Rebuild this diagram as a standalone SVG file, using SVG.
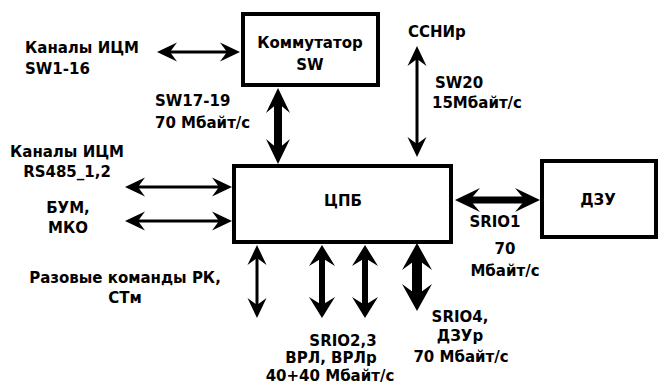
<svg xmlns="http://www.w3.org/2000/svg" width="665" height="386" viewBox="0 0 665 386">
<style>
text{font-family:"DejaVu Sans","Liberation Sans",sans-serif;font-weight:bold;font-size:15px;fill:#000}
.box{fill:#fff;stroke:#000;stroke-width:4}
.c{text-anchor:middle}
.thin{stroke:#000;stroke-width:3;fill:none;marker-start:url(#hThin);marker-end:url(#hThin)}
.med{stroke:#000;stroke-width:6;fill:none;marker-start:url(#hMed);marker-end:url(#hMed)}
.thick{stroke:#000;stroke-width:8;fill:none;marker-start:url(#hThick);marker-end:url(#hThick)}
.xthick{stroke:#000;stroke-width:10;fill:none;marker-start:url(#hX);marker-end:url(#hX)}
</style>
<defs>
<marker id="hThin" markerUnits="userSpaceOnUse" viewBox="-22 -12 24 24" refX="-13" refY="0" markerWidth="24" markerHeight="24" orient="auto-start-reverse"><path d="M0,0 L-20,-9.5 L-13,0 L-20,9.5 Z" fill="#000"/></marker>
<marker id="hMed" markerUnits="userSpaceOnUse" viewBox="-24 -15 26 30" refX="-13" refY="0" markerWidth="26" markerHeight="30" orient="auto-start-reverse"><path d="M0,0 L-21,-13 L-13,0 L-21,13 Z" fill="#000"/></marker>
<marker id="hThick" markerUnits="userSpaceOnUse" viewBox="-28 -15 30 30" refX="-15" refY="0" markerWidth="30" markerHeight="30" orient="auto-start-reverse"><path d="M0,0 L-25,-12 L-15,0 L-25,12 Z" fill="#000"/></marker>
<marker id="hX" markerUnits="userSpaceOnUse" viewBox="-30 -17 32 34" refX="-16" refY="0" markerWidth="32" markerHeight="34" orient="auto-start-reverse"><path d="M0,0 L-27,-15 L-16,0 L-27,15 Z" fill="#000"/></marker>
</defs>

<g id="connectors">
<line class="thin" x1="170" y1="52" x2="227" y2="52"/>
<line class="thick" x1="278" y1="103" x2="278" y2="149"/>
<line class="thin" x1="417" y1="59" x2="417" y2="144"/>
<line class="thick" x1="470" y1="200" x2="525" y2="200" style="stroke-width:7"/>
<line class="thin" x1="138" y1="187" x2="219" y2="187"/>
<line class="thin" x1="138" y1="221" x2="219" y2="221"/>
<line class="thin" x1="257" y1="258" x2="257" y2="305"/>
<line class="med" x1="322" y1="258" x2="322" y2="305"/>
<line class="med" x1="365" y1="258" x2="365" y2="305"/>
<line class="xthick" x1="417" y1="259" x2="417" y2="295"/>
</g>

<g id="commutator">
<rect class="box" x="243" y="14" width="135" height="71"/>
<text class="c" x="310" y="48">Коммутатор</text>
<text class="c" x="310" y="70">SW</text>
</g>

<g id="cpb">
<rect class="box" x="234" y="166" width="217" height="76"/>
<text class="c" x="343" y="206">ЦПБ</text>
</g>

<g id="dzu">
<rect class="box" x="542" y="161" width="114" height="76"/>
<text class="c" x="598" y="205">ДЗУ</text>
</g>

<g id="labels">
<text x="25" y="53">Каналы ИЦМ</text>
<text x="25" y="74">SW1-16</text>
<text x="155" y="106">SW17-19</text>
<text x="155" y="128">70 Мбайт/с</text>
<text x="10" y="157">Каналы ИЦМ</text>
<text class="c" x="67" y="177">RS485_1,2</text>
<text class="c" x="68" y="213">БУМ,</text>
<text class="c" x="68" y="233">МКО</text>
<text class="c" x="125" y="283">Разовые команды РК,</text>
<text class="c" x="125" y="303">СТм</text>
<text x="408" y="37">ССНИр</text>
<text x="435" y="88">SW20</text>
<text x="432" y="108">15Мбайт/с</text>
<text class="c" x="495" y="227">SRIO1</text>
<text class="c" x="505" y="254">70</text>
<text class="c" x="505" y="276">Мбайт/с</text>
<text class="c" x="460" y="322">SRIO4,</text>
<text class="c" x="460" y="341">ДЗУр</text>
<text class="c" x="461" y="362">70 Мбайт/с</text>
<text class="c" x="343" y="346">SRIO2,3</text>
<text class="c" x="331" y="363">ВРЛ, ВРЛр</text>
<text class="c" x="330" y="381">40+40 Мбайт/с</text>
</g>
</svg>
